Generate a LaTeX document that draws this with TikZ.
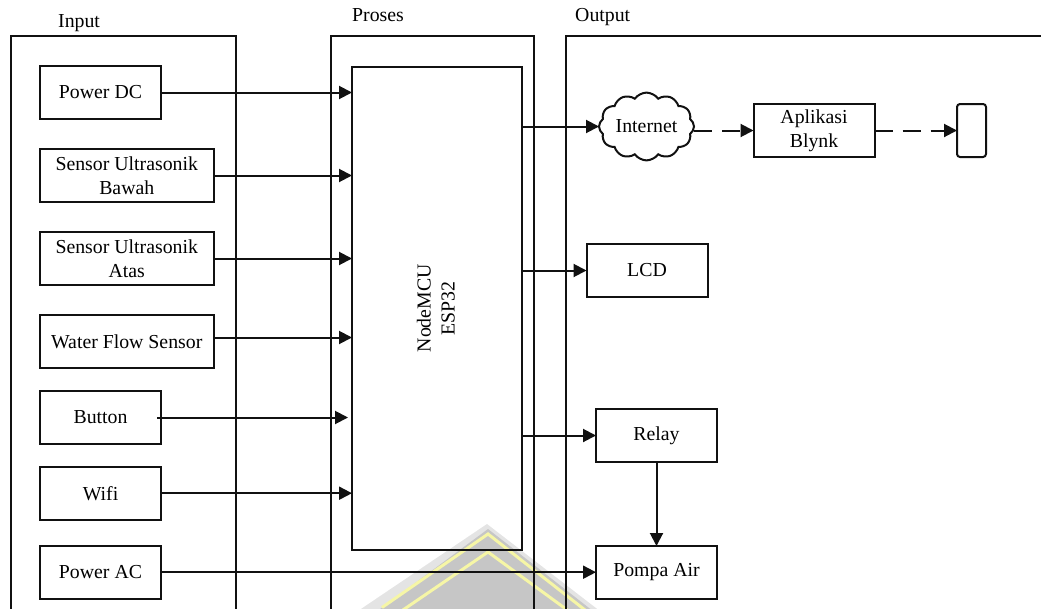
\documentclass[tikz,border=0pt]{standalone}
\usepackage{fontspec}
\setmainfont{Liberation Serif}
\usepackage{tikz}
\usetikzlibrary{arrows.meta, positioning, shapes.symbols}
\definecolor{inkblack}{HTML}{111111}
\definecolor{wmgray}{HTML}{C6C6C6}
\definecolor{wmsoft}{HTML}{E4E4E4}
\definecolor{wmyellow}{HTML}{F6F6A6}

\begin{document}
\begin{tikzpicture}[
  x=1pt, y=-1pt,
  font=\fontsize{19.8}{24}\selectfont,
  panel/.style={rectangle, draw=inkblack, line width=2pt, anchor=north west,
                minimum height=600pt, inner sep=0pt, outer sep=0pt},
  panellabel/.style={anchor=base west, inner sep=0pt},
  box/.style={rectangle, draw=inkblack, line width=2pt, anchor=north west,
              minimum width=121pt, minimum height=53pt, inner sep=0pt, outer sep=0pt, align=center},
  widebox/.style={box, minimum width=173.5pt},
  cloudbox/.style={cloud, cloud puffs=12, cloud puff arc=110, aspect=1.5, draw=inkblack,
                   line width=2pt, minimum width=95pt, minimum height=65pt, inner sep=0pt, outer sep=0pt},
  arrow/.style={-{Triangle[length=13pt, width=13pt]}, line width=2pt, color=inkblack},
  dasharrow/.style={arrow, dash pattern=on 18pt off 10pt}
]
  \path[use as bounding box, clip] (0,0) rectangle (1041,608);

  % watermark
  \fill[wmsoft] (487,524) -- (352,615) -- (605,615) -- cycle;
  \fill[wmgray] (488,529) -- (372,615) -- (598,615) -- cycle;
  \draw[wmyellow, line width=3pt] (382,607.5) -- (488,534) -- (585,610);
  \draw[wmyellow, line width=3pt] (400,612) -- (488,552) -- (570,612);

  % blocks
  \node[panel, minimum width=225.5pt] (input) at (10.5,36) {};
  \node[panel, minimum width=203pt] (proses) at (331.3,36) {};
  \node[panel, minimum width=500pt] (output) at (566,36) {};
  \node[panellabel] (inputlabel) at (58,27) {Input};
  \node[panellabel] (proseslabel) at (352,21) {Proses};
  \node[panellabel] (outputlabel) at (575,21) {Output};

  \node[box] (powerdc) at (40,66) {Power DC};
  \node[widebox, below=30pt of powerdc.south west, anchor=north west] (bawah) {Sensor Ultrasonik\\Bawah};
  \node[widebox, below=30pt of bawah.south west, anchor=north west] (atas) {Sensor Ultrasonik\\Atas};
  \node[widebox, below=30pt of atas.south west, anchor=north west] (water) {Water Flow Sensor};
  \node[box] (button) at (40,391) {Button};
  \node[box, below=22.7pt of button.south west, anchor=north west] (wifi) {Wifi};
  \node[box, below=26pt of wifi.south west, anchor=north west] (powerac) {Power AC};

  \node[box, minimum width=169.5pt, minimum height=483.5pt] (mcu) at (352,66.5) {};
  \node[rotate=90, align=center] (mcutext) at ([xshift=-1pt]mcu.center) {NodeMCU\\ESP32};

  \node[cloudbox] (internet) at (646.5,126.5) {Internet};
  \node[box] (aplikasi) at (753.5,104) {Aplikasi\\Blynk};
  \node[box, rounded corners=3pt, minimum width=29pt] (phone) at (957,104) {};
  \node[box] (lcd) at (586.5,244) {LCD};
  \node[box] (relay) at (596,409) {Relay};
  \node[box] (pompa) at (596,546) {Pompa Air};

  % connectors
  \draw[arrow] (powerdc) -- (powerdc -| mcu.west);
  \draw[arrow] (bawah) -- (bawah -| mcu.west);
  \draw[arrow] (atas) -- (atas -| mcu.west);
  \draw[arrow] ([yshift=4pt]water.east) -- ([yshift=4pt]water.east -| mcu.west);
  \draw[arrow] ([xshift=-4pt]button.east) -- ([xshift=-4pt]button.east |- button.east -| mcu.west);
  \draw[arrow] (wifi) -- (wifi -| mcu.west);
  \draw[arrow] (powerac) -- (powerac -| pompa.west);

  \draw[arrow] (mcu.east |- internet.west) -- (internet.west);
  \draw[arrow] (mcu.east |- lcd.west) -- (lcd.west);
  \draw[arrow] (mcu.east |- relay.west) -- (relay.west);
  \draw[arrow] (relay) -- (pompa);
  \draw[dasharrow] (internet.east |- aplikasi.west) -- (aplikasi.west);
  \draw[dasharrow] (aplikasi) -- (phone);
\end{tikzpicture}
\end{document}
